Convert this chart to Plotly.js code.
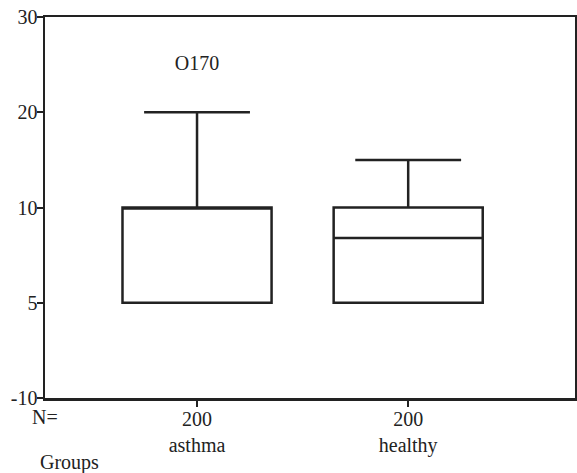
<!DOCTYPE html>
<html>
<head>
<meta charset="utf-8">
<script src="https://cdn.plot.ly/plotly-3.0.1.min.js"></script>
<style>html,body{margin:0;padding:0;background:#fff;}#chart{width:577px;height:473px;}</style>
</head>
<body>
<div id="chart"></div>
<script>
// Data
var groups = ["asthma", "healthy"];
var groupN = [200, 200];
var q1 = [5, 5];
var medians = [10, 8.4];
var q3 = [10, 10];
var lowerWhisker = [5, 5];
var upperWhisker = [20, 15];
var outlierGroup = [1];
var outlierValues = [25];
var outlierLabels = ["O170"];
// Y-axis tick labels (unevenly spaced values, evenly spaced on the axis)
var yTickValues = [-10, 5, 10, 20, 30];

// Piecewise-linear mapping of a value onto the evenly spaced tick positions
function pos(v) {
  for (var i = 0; i < yTickValues.length - 1; i++) {
    var a = yTickValues[i], b = yTickValues[i + 1];
    if (v <= b || i === yTickValues.length - 2) {
      return i + (v - a) / (b - a);
    }
  }
}

var font = "Liberation Serif";
var fsize = 20;
var traces = groups.map(function (g, i) {
  return {
    type: "box",
    x: [i + 1],
    q1: [pos(q1[i])],
    median: [pos(medians[i])],
    q3: [pos(q3[i])],
    lowerfence: [pos(lowerWhisker[i])],
    upperfence: [pos(upperWhisker[i])],
    width: 0.706,
    whiskerwidth: 0.71,
    boxpoints: false,
    fillcolor: "rgba(255,255,255,1)",
    line: {color: "#222", width: 2.5},
    showlegend: false,
    hoverinfo: "skip"
  };
});
traces.push({
  type: "scatter",
  mode: "text",
  x: outlierGroup,
  y: outlierValues.map(pos),
  text: outlierLabels,
  textposition: "middle center",
  textfont: {family: font, size: fsize, color: "#222"},
  showlegend: false,
  hoverinfo: "skip"
});

var layout = {
  width: 577,
  height: 473,
  margin: {l: 45, r: 2, t: 17, b: 75},
  paper_bgcolor: "#fff",
  plot_bgcolor: "#fff",
  showlegend: false,
  font: {family: font, size: fsize, color: "#222"},
  xaxis: {
    range: [0.28, 2.79],
    tickvals: groups.map(function (g, i) { return i + 1; }),
    ticktext: groups.map(function (g, i) { return groupN[i] + "<br>" + g; }),
    tickfont: {family: font, size: fsize, color: "#222"},
    ticklabelstandoff: -5,
    ticks: "outside",
    ticklen: 6,
    tickwidth: 2,
    tickcolor: "#222",
    showline: true,
    linecolor: "#222",
    linewidth: 2.5,
    mirror: true,
    showgrid: false,
    zeroline: false,
    fixedrange: true
  },
  yaxis: {
    range: [0, 4],
    tickvals: yTickValues.map(function (v, i) { return i; }),
    ticktext: yTickValues.map(String),
    tickfont: {family: font, size: fsize, color: "#222"},
    ticklabelstandoff: -5,
    ticks: "outside",
    ticklen: 6,
    tickwidth: 2,
    tickcolor: "#222",
    showline: true,
    linecolor: "#222",
    linewidth: 2.5,
    mirror: true,
    showgrid: false,
    zeroline: false,
    fixedrange: true
  },
  annotations: [
    {text: "N=", xref: "paper", yref: "paper", x: 0, y: -0.05, xanchor: "center", yanchor: "middle", showarrow: false, font: {family: font, size: fsize, color: "#222"}},
    {text: "Groups", xref: "paper", yref: "paper", x: -0.013, y: -0.168, xanchor: "left", yanchor: "middle", showarrow: false, font: {family: font, size: fsize, color: "#222"}}
  ]
};

Plotly.newPlot("chart", traces, layout, {displayModeBar: false, staticPlot: true});
</script>
</body>
</html>
